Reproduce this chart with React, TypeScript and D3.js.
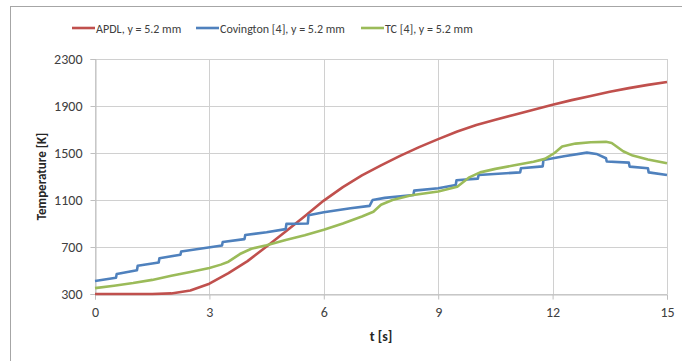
import React, { useEffect, useRef } from 'react';
import * as d3 from 'd3';

// time [s] / temperature [K]
const apdlT = [0, 0.5, 1, 1.5, 2, 2.5, 3, 3.5, 4, 4.5, 5, 5.5, 6, 6.5, 7, 7.5, 8, 8.5, 9, 9.5, 10, 10.5, 11, 11.5, 12, 12.5, 13, 13.5, 14, 14.5, 15];
const apdlV = [300, 300, 300, 300, 305, 330, 388, 478, 580, 705, 832, 962, 1095, 1210, 1310, 1395, 1475, 1550, 1618, 1683, 1738, 1782, 1826, 1868, 1910, 1950, 1986, 2022, 2052, 2080, 2105];

const covT = [0, 0.55, 0.57, 1.1, 1.12, 1.67, 1.69, 2.24, 2.26, 3.33, 3.35, 3.92, 3.94, 4.5, 5.0, 5.02, 5.58, 5.6, 6.0, 6.7, 7.2, 7.28, 7.6, 8.35, 8.37, 9.0, 9.46, 9.48, 10.04, 10.06, 11.15, 11.17, 11.74, 11.76, 12.3, 12.9, 13.15, 13.4, 13.42, 14.0, 14.02, 14.5, 14.52, 15];
const covV = [410, 438, 470, 502, 540, 568, 605, 634, 662, 713, 742, 767, 802, 825, 852, 897, 900, 970, 995, 1030, 1050, 1100, 1118, 1143, 1180, 1200, 1228, 1268, 1282, 1313, 1335, 1370, 1386, 1440, 1472, 1503, 1492, 1455, 1428, 1418, 1384, 1370, 1335, 1313];

const tcT = [0, 0.5, 1, 1.5, 2, 2.5, 3, 3.3, 3.5, 3.8, 4.1, 4.5, 5, 5.5, 6, 6.5, 7, 7.3, 7.5, 7.8, 8.3, 9, 9.5, 9.8, 10.1, 10.5, 11, 11.5, 11.8, 12.05, 12.25, 12.6, 13, 13.4, 13.55, 13.85, 14.1, 14.5, 15];
const tcV = [350, 370, 393, 420, 455, 488, 522, 550, 575, 640, 685, 715, 760, 800, 846, 900, 960, 1000, 1060, 1100, 1140, 1172, 1212, 1290, 1335, 1365, 1395, 1425, 1450, 1500, 1555, 1580, 1592, 1595, 1585, 1515, 1478, 1445, 1412];

const xTicks = [0, 3, 6, 9, 12, 15];
const yTicks = [300, 700, 1100, 1500, 1900, 2300];

const series = [
  { name: 'APDL, y = 5.2 mm', t: apdlT, v: apdlV, color: '#c0504d' },
  { name: 'Covington [4], y = 5.2 mm', t: covT, v: covV, color: '#4f81bd' },
  { name: 'TC [4], y = 5.2 mm', t: tcT, v: tcV, color: '#9bbb59' },
];

const font = "Carlito, 'Liberation Sans Narrow', 'Liberation Sans', sans-serif";

function Chart() {
  const ref = useRef<SVGSVGElement>(null);

  useEffect(() => {
    const width = 682;
    const height = 361;
    const margin = { top: 59, right: 15, bottom: 67, left: 95 };

    const svg = d3.select(ref.current);
    svg.selectAll('*').remove();

    const x = d3.scaleLinear().domain([0, 15]).range([margin.left, width - margin.right]);
    const y = d3.scaleLinear().domain([300, 2300]).range([height - margin.bottom, margin.top]);

    // chart frame
    svg.append('rect')
      .attr('x', 10.5).attr('y', 6.5)
      .attr('width', width).attr('height', height)
      .attr('fill', '#fff').attr('stroke', '#a6a6a6');

    // gridlines
    svg.append('g')
      .selectAll('line')
      .data(yTicks)
      .join('line')
      .attr('x1', margin.left).attr('x2', width - margin.right)
      .attr('y1', d => Math.round(y(d)) + 0.5).attr('y2', d => Math.round(y(d)) + 0.5)
      .attr('stroke', '#d0d0d0');

    svg.append('g')
      .selectAll('line')
      .data(xTicks)
      .join('line')
      .attr('x1', d => Math.round(x(d)) + 0.5).attr('x2', d => Math.round(x(d)) + 0.5)
      .attr('y1', margin.top).attr('y2', height - margin.bottom)
      .attr('stroke', '#d0d0d0');

    const xAxis = (g: any) => g
      .attr('transform', `translate(0,${Math.round(y(300)) + 0.5})`)
      .call(d3.axisBottom(x).tickValues(xTicks).tickSize(5).tickPadding(8))
      .call((g: any) => g.selectAll('.domain, line').attr('stroke', '#bfbfbf'));

    const yAxis = (g: any) => g
      .attr('transform', `translate(${Math.round(x(0)) + 0.5},0)`)
      .call(d3.axisLeft(y).tickValues(yTicks).tickFormat(d3.format('d')).tickSize(5).tickPadding(8))
      .call((g: any) => g.selectAll('.domain, line').attr('stroke', '#bfbfbf'));

    svg.append('g').call(xAxis);
    svg.append('g').call(yAxis);

    svg.selectAll('.tick text')
      .attr('font-family', font)
      .attr('font-size', 14)
      .attr('fill', '#404040');

    series.forEach(s => {
      const pts = s.t.map((t, i) => [t, s.v[i]] as [number, number]);
      svg.append('path')
        .datum(pts)
        .attr('fill', 'none')
        .attr('stroke', s.color)
        .attr('stroke-width', 2.6)
        .attr('stroke-linejoin', 'round')
        .attr('d', d3.line<[number, number]>().x(d => x(d[0])).y(d => y(d[1])));
    });

    // axis titles
    svg.append('text')
      .attr('x', x(7.5)).attr('y', 341)
      .attr('text-anchor', 'middle')
      .attr('font-family', font).attr('font-size', 14).attr('font-weight', 'bold')
      .attr('fill', '#262626')
      .text('t [s]');

    svg.append('text')
      .attr('transform', `translate(46,${y(1300)}) rotate(-90)`)
      .attr('text-anchor', 'middle')
      .attr('font-family', font).attr('font-size', 13).attr('font-weight', 'bold')
      .attr('fill', '#262626')
      .text('Temperature [K]');

    // legend
    const legendX = [72, 196, 361];
    const leg = svg.append('g');
    series.forEach((s, i) => {
      leg.append('line')
        .attr('x1', legendX[i]).attr('x2', legendX[i] + 23)
        .attr('y1', 28).attr('y2', 28)
        .attr('stroke', s.color).attr('stroke-width', 2.6);
      leg.append('text')
        .attr('x', legendX[i] + 24).attr('y', 32.5)
        .attr('font-family', font).attr('font-size', 12)
        .attr('fill', '#404040')
        .text(s.name);
    });
  }, []);

  return <svg ref={ref} width={682} height={361} style={{ position: 'absolute', left: 0, top: 0 }} />;
}

export default function App() {
  return <Chart />;
}
